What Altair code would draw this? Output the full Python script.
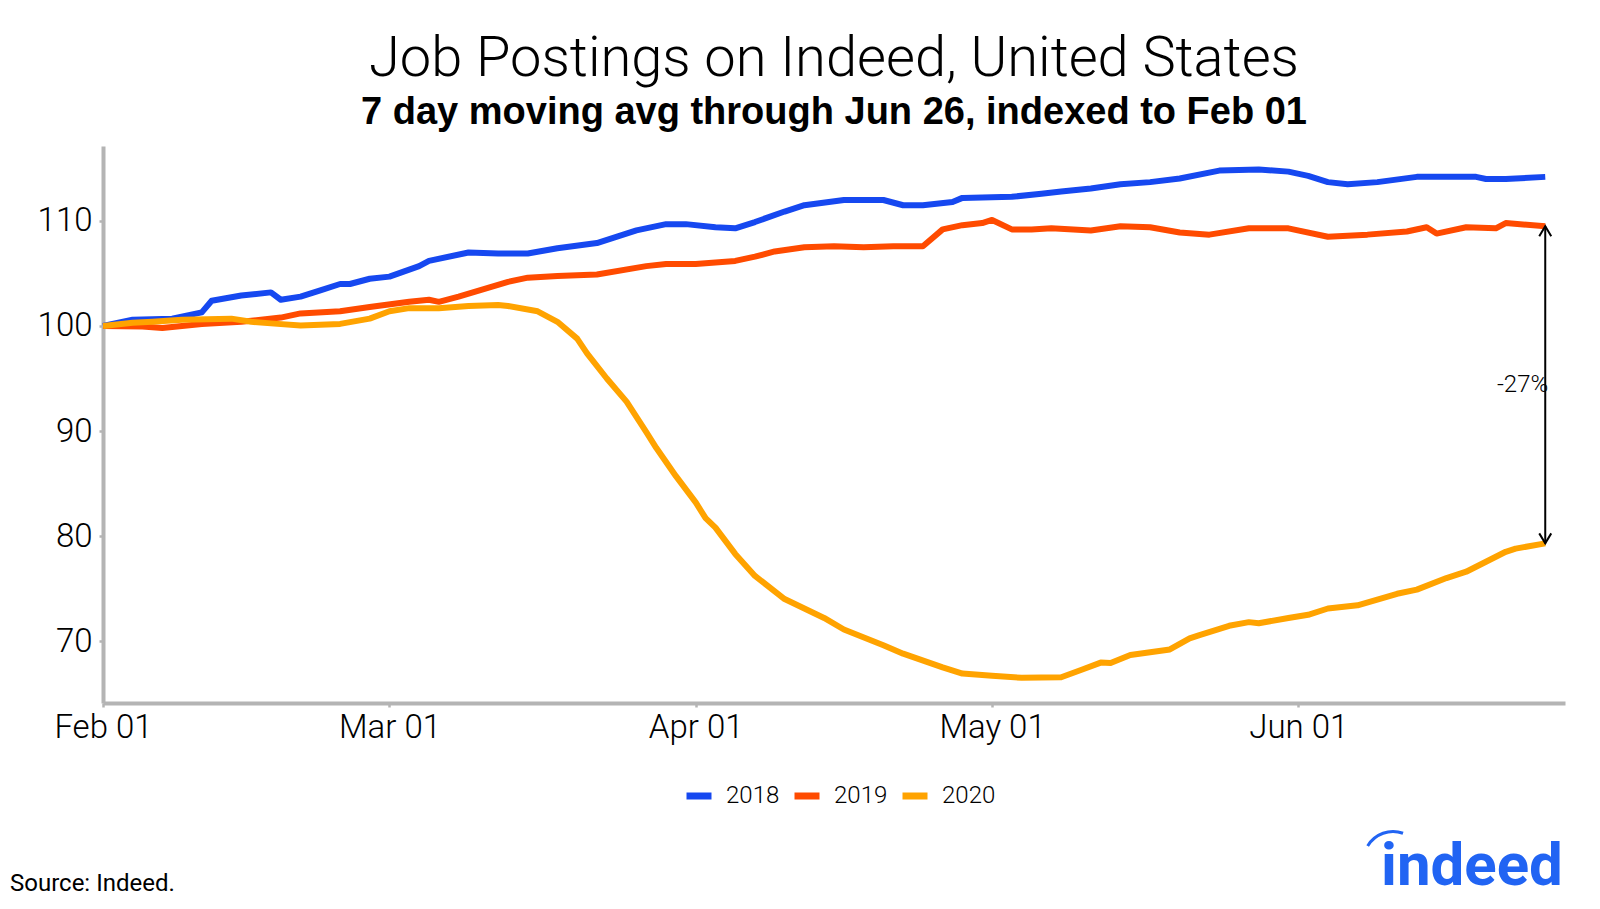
import altair as alt
import pandas as pd

# ---------------- data ----------------
dates_2018 = ["2020-02-01","2020-02-04","2020-02-08","2020-02-11","2020-02-12","2020-02-15","2020-02-18",
              "2020-02-19","2020-02-21","2020-02-23","2020-02-25","2020-02-26","2020-02-28","2020-03-01",
              "2020-03-04","2020-03-05","2020-03-09","2020-03-12","2020-03-15","2020-03-18","2020-03-22",
              "2020-03-26","2020-03-29","2020-03-31","2020-04-03","2020-04-05","2020-04-07","2020-04-10",
              "2020-04-12","2020-04-16","2020-04-20","2020-04-22","2020-04-24","2020-04-27","2020-04-28",
              "2020-05-01","2020-05-03","2020-05-06","2020-05-08","2020-05-10","2020-05-11","2020-05-14",
              "2020-05-17","2020-05-20","2020-05-24","2020-05-28","2020-05-31","2020-06-02","2020-06-04",
              "2020-06-06","2020-06-09","2020-06-13","2020-06-15","2020-06-19","2020-06-20","2020-06-22",
              "2020-06-26"]
values_2018 = [100.0, 100.6, 100.7, 101.3, 102.4, 102.9, 103.2,
               102.5, 102.8, 103.4, 104.0, 104.0, 104.5, 104.7,
               105.7, 106.2, 107.0, 106.9, 106.9, 107.4, 107.9,
               109.1, 109.7, 109.7, 109.4, 109.3, 109.9, 110.9,
               111.5, 112.0, 112.0, 111.5, 111.5, 111.8, 112.2,
               112.25, 112.3, 112.6, 112.8, 113.0, 113.1, 113.5,
               113.7, 114.05, 114.8, 114.9, 114.7, 114.3, 113.7,
               113.5, 113.7, 114.2, 114.2, 114.2, 114.0, 114.0,
               114.2]

dates_2019 = ["2020-02-01","2020-02-05","2020-02-07","2020-02-11","2020-02-15","2020-02-19","2020-02-21",
              "2020-02-25","2020-02-28","2020-03-03","2020-03-05","2020-03-06","2020-03-08","2020-03-13",
              "2020-03-15","2020-03-18","2020-03-22","2020-03-27","2020-03-29","2020-04-01","2020-04-05",
              "2020-04-07","2020-04-09","2020-04-12","2020-04-15","2020-04-18","2020-04-21","2020-04-24",
              "2020-04-26","2020-04-28","2020-04-30","2020-05-01","2020-05-03","2020-05-05","2020-05-07",
              "2020-05-11","2020-05-14","2020-05-17","2020-05-20","2020-05-23","2020-05-27","2020-05-31",
              "2020-06-04","2020-06-08","2020-06-12","2020-06-14","2020-06-15","2020-06-18","2020-06-21",
              "2020-06-22","2020-06-26"]
values_2019 = [100.0, 99.95, 99.8, 100.2, 100.4, 100.8, 101.2,
               101.4, 101.8, 102.3, 102.5, 102.3, 102.8, 104.2,
               104.6, 104.75, 104.9, 105.7, 105.9, 105.9, 106.2,
               106.6, 107.1, 107.5, 107.6, 107.5, 107.6, 107.6,
               109.2, 109.6, 109.8, 110.1, 109.2, 109.2, 109.3,
               109.1, 109.5, 109.4, 108.9, 108.7, 109.3, 109.3,
               108.5, 108.7, 109.0, 109.4, 108.8, 109.4, 109.3,
               109.8, 109.5]

dates_2020 = ["2020-02-01","2020-02-04","2020-02-06","2020-02-09","2020-02-14","2020-02-16","2020-02-18",
              "2020-02-21","2020-02-25","2020-02-28","2020-03-01","2020-03-03","2020-03-06","2020-03-09",
              "2020-03-12","2020-03-13","2020-03-16","2020-03-18","2020-03-20","2020-03-21","2020-03-23",
              "2020-03-25","2020-03-27","2020-03-28","2020-03-30","2020-04-01","2020-04-02","2020-04-03",
              "2020-04-05","2020-04-07","2020-04-10","2020-04-12","2020-04-14","2020-04-16","2020-04-20",
              "2020-04-22","2020-04-26","2020-04-28","2020-05-01","2020-05-04","2020-05-08","2020-05-10",
              "2020-05-12","2020-05-13","2020-05-15","2020-05-19","2020-05-21","2020-05-22","2020-05-25",
              "2020-05-27","2020-05-28","2020-05-31","2020-06-02","2020-06-04","2020-06-07","2020-06-11",
              "2020-06-13","2020-06-16","2020-06-18","2020-06-20","2020-06-22","2020-06-23","2020-06-26"]
values_2020 = [100.0, 100.3, 100.4, 100.6, 100.7, 100.4, 100.25,
               100.05, 100.2, 100.7, 101.4, 101.7, 101.7, 101.9,
               102.0, 101.9, 101.4, 100.4, 98.8, 97.4, 95.0,
               92.8, 89.9, 88.4, 85.7, 83.2, 81.7, 80.8,
               78.3, 76.2, 74.0, 73.1, 72.2, 71.1, 69.6,
               68.8, 67.5, 66.9, 66.7, 66.5, 66.55, 67.24,
               67.95, 67.9, 68.67, 69.2, 70.25, 70.57, 71.45,
               71.8, 71.7, 72.2, 72.5, 73.1, 73.4, 74.5,
               74.9, 76.0, 76.6, 77.55, 78.5, 78.8, 79.3]

series_names = ["2018", "2019", "2020"]
series_colors = ["#1648F0", "#FF4B00", "#FFA300"]
y_ticks = [70, 80, 90, 100, 110]
x_tick_months = [2, 3, 4, 5, 6]
gap_label = "-27%"
title_text = "Job Postings on Indeed, United States"
subtitle_text = "7 day moving avg through Jun 26, indexed to Feb 01"
source_text = "Source: Indeed."
logo_text = "indeed"

# ---------------- tables ----------------
rows = []
for name, ds, vs in zip(series_names, [dates_2018, dates_2019, dates_2020],
                        [values_2018, values_2019, values_2020]):
    for d, v in zip(ds, vs):
        rows.append({"date": d, "value": v, "series": name})
lines_df = pd.DataFrame(rows)

arrow_df = pd.DataFrame({"date": [dates_2019[-1]],
                         "top": [values_2019[-1]],
                         "bottom": [values_2020[-1]],
                         "mid": [(values_2019[-1] + values_2020[-1]) / 2],
                         "label": [gap_label]})

LIGHT = "Roboto"
AXIS_GREY = "#b4b4b4"

x_scale = alt.Scale(type="utc",
                    domain=[alt.DateTime(year=2020, month=2, date=1, utc=True),
                            alt.DateTime(year=2020, month=6, date=28, utc=True)],
                    nice=False)
y_scale = alt.Scale(domain=[64.1, 117.14], nice=False, zero=False)

x_axis = alt.Axis(title=None, grid=False,
                  values=[alt.DateTime(year=2020, month=m, date=1, utc=True) for m in x_tick_months],
                  labelExpr="utcFormat(datum.value, '%b %d')", labelFlush=False,
                  domainColor=AXIS_GREY, domainWidth=4, tickColor=AXIS_GREY, tickWidth=2.5,
                  tickSize=4, labelPadding=4, labelFont=LIGHT, labelFontWeight=300,
                  labelFontSize=33, labelColor="black")
y_axis = alt.Axis(title=None, grid=False, values=y_ticks,
                  domainColor=AXIS_GREY, domainWidth=4, tickColor=AXIS_GREY, tickWidth=2.5,
                  tickSize=4, labelPadding=7, labelFont=LIGHT, labelFontWeight=300,
                  labelFontSize=33, labelColor="black")

lines = alt.Chart(lines_df).mark_line(strokeWidth=6, strokeJoin="round").encode(
    x=alt.X("date:T", scale=x_scale, axis=x_axis),
    y=alt.Y("value:Q", scale=y_scale, axis=y_axis),
    color=alt.Color("series:N",
                    scale=alt.Scale(domain=series_names, range=series_colors),
                    legend=alt.Legend(title=None, orient="none", direction="horizontal",
                                      legendX=580, legendY=634, padding=0,
                                      symbolType="stroke", symbolStrokeWidth=7, symbolSize=625,
                                      labelFont=LIGHT, labelFontWeight=300, labelFontSize=24,
                                      labelColor="black", labelOffset=11, columnPadding=0)),
)

arrow = alt.Chart(arrow_df).mark_rule(color="black", strokeWidth=2).encode(
    x=alt.X("date:T", scale=x_scale),
    y=alt.Y("top:Q", scale=y_scale),
    y2="bottom:Q",
)
head_top = alt.Chart(arrow_df).mark_point(shape="M-0.6,1L0,0L0.6,1", filled=False,
                                          color="black", strokeWidth=2, size=400, opacity=1).encode(
    x=alt.X("date:T", scale=x_scale),
    y=alt.Y("top:Q", scale=y_scale),
)
head_bottom = alt.Chart(arrow_df).mark_point(shape="M-0.6,-1L0,0L0.6,-1", filled=False,
                                             color="black", strokeWidth=2, size=400, opacity=1).encode(
    x=alt.X("date:T", scale=x_scale),
    y=alt.Y("bottom:Q", scale=y_scale),
)
gap_text = alt.Chart(arrow_df).mark_text(align="right", baseline="middle", dx=3,
                                         font=LIGHT, fontWeight=300, fontSize=24,
                                         color="black").encode(
    x=alt.X("date:T", scale=x_scale),
    y=alt.Y("mid:Q", scale=y_scale),
    text="label:N",
)

source = alt.Chart(pd.DataFrame({"t": [source_text]})).mark_text(
    align="left", baseline="alphabetic", font=LIGHT, fontSize=24, color="black"
).encode(x=alt.value(-93), y=alt.value(745), text="t:N")

logo = alt.Chart(pd.DataFrame({"t": [logo_text]})).mark_text(
    align="left", baseline="alphabetic", font="Roboto", fontWeight="bold", fontSize=60,
    color="#2164F3"
).encode(x=alt.value(1278), y=alt.value(739), text="t:N")

logo_arc = alt.Chart(pd.DataFrame({"t": [logo_text]})).mark_arc(
    innerRadius=28, outerRadius=31, color="#2164F3"
).encode(x=alt.value(1290), y=alt.value(715), theta=alt.value(5.25), theta2=alt.value(6.63))

chart = alt.layer(lines, arrow, head_top, head_bottom, gap_text, source, logo, logo_arc).properties(
    width=1462,
    height=557,
    background="white",
    autosize=alt.AutoSizeParams(type="none"),
    padding={"left": 95, "top": 138, "right": 19, "bottom": 197},
    title=alt.TitleParams(text=title_text, subtitle=subtitle_text,
                          font=LIGHT, fontWeight=300, fontSize=56, color="black",
                          subtitleFont="Liberation Sans", subtitleFontWeight="bold",
                          subtitleFontSize=38, subtitleColor="black", subtitlePadding=6,
                          anchor="middle", frame="group", offset=13),
).configure_view(stroke=None, strokeWidth=0)

chart.save("out.html", embed_options={"renderer": "svg", "actions": False})
